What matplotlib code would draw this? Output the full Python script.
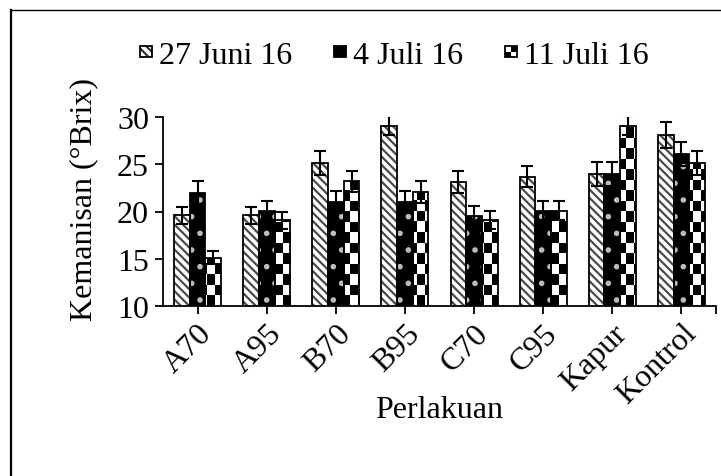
import matplotlib
matplotlib.use("Agg")
import matplotlib.pyplot as plt
import numpy as np
from matplotlib.lines import Line2D
from matplotlib.patches import Rectangle, Patch

plt.rcParams['font.family'] = ['Liberation Serif', 'DejaVu Serif']
plt.rcParams['hatch.linewidth'] = 1.6

# data
perlakuan = ['A70', 'A95', 'B70', 'B95', 'C70', 'C95', 'Kapur', 'Kontrol']
tanggal = ['27 Juni 16', '4 Juli 16', '11 Juli 16']
juni27 = [19.6, 19.6, 25.1, 29.1, 23.1, 23.7, 24.0, 28.1]
juli4 = [22.0, 20.1, 21.0, 21.0, 19.5, 20.1, 24.0, 26.1]
juli11 = [15.1, 19.1, 23.2, 22.1, 19.1, 20.1, 29.1, 25.1]
err27 = [0.9, 0.9, 1.25, 1.05, 1.15, 1.15, 1.25, 1.4]
err4 = [1.2, 1.0, 1.15, 1.15, 1.05, 1.0, 1.25, 1.3]
err11 = [0.7, 0.9, 1.1, 1.15, 1.0, 1.0, 1.05, 1.25]

fs = 23

fig = plt.figure(figsize=(7.21, 4.77), dpi=100)
ax = fig.add_axes([163/721, 1-307/477, 553/721, 189/477])

x = np.arange(len(perlakuan))
w = 0.227

# series 1: white with dark diagonal stripes
ax.bar(x - w, juni27, w, color='white', edgecolor='#4a4a4a',
       hatch='\\\\\\\\', linewidth=0, zorder=2)
ax.bar(x - w, juni27, w, fill=False, edgecolor='black', linewidth=1.3, zorder=3)

# series 2: black with small white dots
ax.bar(x, juli4, w, color='black', edgecolor='#bbbbbb', hatch='.',
       linewidth=0, zorder=2)
ax.bar(x, juli4, w, fill=False, edgecolor='black', linewidth=1.3, zorder=3)

# series 3: checkerboard
nx, ny = 74, 18
checker = (np.add.outer(np.arange(ny), np.arange(nx)) % 2).astype(float)
bars3 = ax.bar(x + w, juli11, w, fill=False, edgecolor='black', linewidth=1.3, zorder=3)
for b in bars3:
    im = ax.imshow(checker, extent=(-0.5, 7.5, 10, 30), cmap='gray_r',
                   interpolation='nearest', aspect='auto', zorder=2, vmin=0, vmax=1)
    im.set_clip_path(b)

ek = dict(ecolor='black', elinewidth=1.5, capsize=4.5, capthick=1.5)
ax.errorbar(x - w, juni27, yerr=err27, fmt='none', zorder=4, **ek)
ax.errorbar(x, juli4, yerr=err4, fmt='none', zorder=4, **ek)
ax.errorbar(x + w, juli11, yerr=err11, fmt='none', zorder=4, **ek)

ax.set_xlim(-0.5, 7.5)
ax.set_ylim(10, 30)
ax.set_yticks([10, 15, 20, 25, 30])
ax.set_xticks(x)
ax.set_xticklabels(perlakuan, rotation=45, ha='right', rotation_mode='anchor')
ax.tick_params(axis='both', labelsize=fs, direction='out', width=1.3, color='black')
ax.tick_params(axis='y', length=6, pad=4)
ax.tick_params(axis='x', length=6, pad=3)
ax.set_xticks([7.5], minor=True)
ax.tick_params(axis='x', which='minor', length=6, width=1.3)
ax.spines['top'].set_visible(False)
ax.spines['right'].set_visible(False)
ax.spines['left'].set_linewidth(1.3)
ax.spines['bottom'].set_linewidth(1.3)
ax.set_ylabel('Kemanisan (°Brix)', fontsize=fs)
ax.yaxis.set_label_coords(-0.118, 0.57)
ax.set_xlabel('Perlakuan', fontsize=fs)
ax.xaxis.set_label_coords(0.5, -0.47)


class SquareHandler:
    # small square swatch centred on the text line
    def __init__(self, kind):
        self.kind = kind

    def legend_artist(self, legend, orig_handle, fontsize, handlebox):
        x0, y0 = handlebox.xdescent, handlebox.ydescent
        hw, hh = handlebox.width, handlebox.height
        s = 8.5
        sx, sy = x0 + (hw - s) / 2, y0 + (hh - s) / 2
        tr = handlebox.get_transform()
        if self.kind == 'hatch':
            handlebox.add_artist(Rectangle((sx, sy), s, s, facecolor='white',
                                           edgecolor='#333333', hatch='\\\\\\\\',
                                           linewidth=0, transform=tr))
        elif self.kind == 'black':
            handlebox.add_artist(Rectangle((sx, sy), s, s, facecolor='black',
                                           edgecolor='none', transform=tr))
        else:
            handlebox.add_artist(Rectangle((sx, sy), s, s, facecolor='white',
                                           edgecolor='none', transform=tr))
            handlebox.add_artist(Rectangle((sx + s/2, sy + s/2), s/2, s/2,
                                           facecolor='black', edgecolor='none', transform=tr))
            handlebox.add_artist(Rectangle((sx, sy), s/2, s/2, facecolor='black',
                                           edgecolor='none', transform=tr))
        r = Rectangle((sx, sy), s, s, facecolor='none', edgecolor='black',
                      linewidth=1.3, transform=tr)
        handlebox.add_artist(r)
        return r


h1 = Patch(facecolor='white')
h2 = Patch(facecolor='black')
h3 = Patch(facecolor='gray')
fig.legend([h1, h2, h3], tanggal, loc='center', bbox_to_anchor=(394/721, 1-56/477),
           ncol=3, frameon=False, fontsize=fs, handlelength=0.4, handleheight=0.7,
           handletextpad=0.2, columnspacing=1.3, borderaxespad=0,
           handler_map={h1: SquareHandler('hatch'), h2: SquareHandler('black'),
                        h3: SquareHandler('checker')})

# outer frame (left and top only)
fig.add_artist(Line2D([11/721, 11/721], [0, 1-11/477], color='black', linewidth=1.6,
                      transform=fig.transFigure))
fig.add_artist(Line2D([11/721, 1], [1-11/477, 1-11/477], color='black', linewidth=1.0,
                      transform=fig.transFigure))

fig.savefig('out.png', dpi=100)
